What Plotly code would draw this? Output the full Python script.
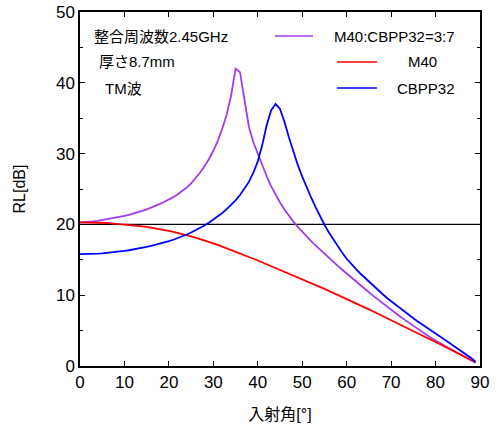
import plotly.graph_objects as go

angle = list(range(0, 90))  # incidence angle, 1 degree steps, 0..89
mix_3_7 = [20.3, 20.31, 20.35, 20.42, 20.5, 20.6, 20.7, 20.82, 20.95, 21.07,
           21.2, 21.35, 21.5, 21.7, 21.9, 22.12, 22.35, 22.62, 22.9, 23.2,
           23.5, 23.85, 24.25, 24.7, 25.2, 25.8, 26.5, 27.3, 28.2, 29.2,
           30.4, 31.8, 33.5, 35.5, 38.2, 42.0, 41.5, 37.4, 33.8, 31.6,
           29.9, 28.3, 26.8, 25.4, 24.2, 23.1, 22.1, 21.2, 20.4, 19.65,
           18.95, 18.3, 17.65, 17.05, 16.45, 15.85, 15.25, 14.7, 14.15, 13.6,
           13.05, 12.52, 12.0, 11.47, 10.95, 10.42, 9.9, 9.4, 8.9, 8.42,
           7.95, 7.47, 7.0, 6.55, 6.1, 5.65, 5.2, 4.77, 4.35, 3.97,
           3.6, 3.22, 2.85, 2.5, 2.15, 1.82, 1.5, 1.17, 0.85, 0.45]
m40 = [20.3, 20.3, 20.3, 20.29, 20.27, 20.24, 20.2, 20.15, 20.1, 20.05,
       20.0, 19.95, 19.88, 19.81, 19.73, 19.64, 19.55, 19.45, 19.34, 19.22,
       19.1, 18.96, 18.82, 18.66, 18.5, 18.32, 18.14, 17.95, 17.75, 17.55,
       17.33, 17.1, 16.87, 16.64, 16.4, 16.15, 15.9, 15.65, 15.4, 15.15,
       14.9, 14.64, 14.38, 14.12, 13.86, 13.6, 13.33, 13.06, 12.79, 12.52,
       12.25, 11.98, 11.71, 11.44, 11.17, 10.9, 10.62, 10.34, 10.06, 9.78,
       9.5, 9.2, 8.9, 8.6, 8.3, 8.0, 7.7, 7.4, 7.1, 6.8,
       6.5, 6.2, 5.9, 5.6, 5.3, 5.0, 4.68, 4.36, 4.04, 3.72,
       3.4, 3.08, 2.76, 2.44, 2.12, 1.8, 1.48, 1.16, 0.84, 0.52]
cbpp32 = [15.8, 15.8, 15.82, 15.85, 15.88, 15.92, 15.97, 16.03, 16.1, 16.17,
          16.25, 16.35, 16.45, 16.57, 16.7, 16.83, 16.97, 17.12, 17.28, 17.45,
          17.63, 17.83, 18.05, 18.3, 18.57, 18.86, 19.17, 19.5, 19.85, 20.23,
          20.65, 21.1, 21.6, 22.15, 22.75, 23.4, 24.15, 25.0, 26.0, 27.3,
          28.9, 31.2, 34.0, 36.1, 37.0, 36.3, 34.5, 32.3, 30.2, 28.4,
          26.75, 25.2, 23.8, 22.45, 21.15, 19.95, 18.85, 17.85, 16.9, 16.0,
          15.15, 14.4, 13.75, 13.1, 12.5, 11.9, 11.3, 10.75, 10.2, 9.65,
          9.15, 8.65, 8.15, 7.65, 7.2, 6.75, 6.3, 5.85, 5.42, 5.0,
          4.58, 4.16, 3.74, 3.32, 2.9, 2.48, 2.05, 1.6, 1.12, 0.6]
ref_level = [20, 20]
ref_x = [0, 90]

names = ["M40:CBPP32=3:7", "M40", "CBPP32"]
colors = ["#A23BEC", "#FF0000", "#0000FF"]
series = [mix_3_7, m40, cbpp32]

FONT = "Liberation Sans, Noto Sans CJK JP, Arial, sans-serif"

fig = go.Figure()
fig.add_trace(go.Scatter(x=ref_x, y=ref_level, mode="lines",
                         line=dict(color="black", width=1.3), showlegend=False))
for n, c, s in zip(names, colors, series):
    fig.add_trace(go.Scatter(x=angle, y=s, mode="lines", name=n,
                             line=dict(color=c, width=1.8), showlegend=False))

# custom legend (paper coordinates)
leg = [
    (0.4875, 0.5825, 0.932, 0.63),
    (0.6425, 0.7425, 0.859, 0.815),
    (0.6425, 0.7425, 0.785, 0.7875),
]
for (x0, x1, yy, tx), n, c in zip(leg, names, colors):
    fig.add_shape(type="line", xref="paper", yref="paper", x0=x0, x1=x1, y0=yy, y1=yy,
                  line=dict(color=c, width=1.5))
    fig.add_annotation(xref="paper", yref="paper", x=tx, y=yy, text=n, showarrow=False,
                       xanchor="left", yanchor="middle", font=dict(size=15, color="black", family=FONT))

notes = [("整合周波数2.45GHz", 0.03, 0.932), ("厚さ8.7mm", 0.043, 0.859), ("TM波", 0.058, 0.785)]
for t, x, y in notes:
    fig.add_annotation(xref="paper", yref="paper", x=x, y=y, text=t, showarrow=False,
                       xanchor="left", yanchor="middle", font=dict(size=15, color="black", family=FONT))

fig.update_layout(
    width=496, height=424,
    margin=dict(l=80, r=16, t=12, b=58),
    plot_bgcolor="white", paper_bgcolor="white",
    font=dict(family=FONT, color="black"),
)
fig.update_xaxes(range=[0, 90], tick0=0, dtick=10, ticks="inside", ticklen=5, tickwidth=1,
                 tickcolor="black", showline=True, linecolor="black", linewidth=1.5, mirror="allticks",
                 showgrid=False, zeroline=False, tickfont=dict(size=17), automargin=False,
                 title=dict(text="入射角[°]", font=dict(size=16), standoff=18))
fig.update_yaxes(range=[0, 50], tick0=0, dtick=10, ticks="inside", ticklen=5, tickwidth=1,
                 tickcolor="black", showline=True, linecolor="black", linewidth=1.5, mirror="allticks",
                 showgrid=False, zeroline=False, tickfont=dict(size=17), automargin=False,
                 minor=dict(dtick=5, ticks="inside", ticklen=3, tickcolor="black"),
                 title=dict(text="RL[dB]", font=dict(size=16), standoff=26))

fig.write_html("out.html")
